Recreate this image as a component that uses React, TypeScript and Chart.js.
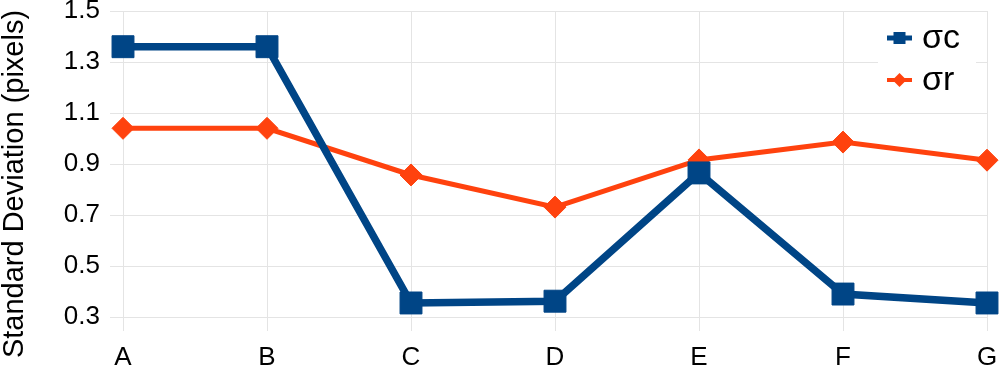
import React, { useEffect, useRef } from "react";
import { Chart, registerables } from "chart.js";

Chart.register(...registerables);

const categories = ["A", "B", "C", "D", "E", "F", "G"];
const sigmaC = [1.36, 1.36, 0.355, 0.362, 0.865, 0.39, 0.355];
const sigmaR = [1.04, 1.04, 0.857, 0.731, 0.916, 0.986, 0.915];
const seriesNames = ["σc", "σr"];
const yTitle = "Standard Deviation (pixels)";

const BLUE = "#004586";
const ORANGE = "#ff420e";
const FONT = "'Liberation Sans', Arial, sans-serif";

const legendPlugin = {
  id: "insideLegend",
  afterDraw(chart: any) {
    const ctx = chart.ctx;
    const area = chart.chartArea;
    const right = area.right - 11;
    const left = right - 98;
    ctx.save();
    ctx.fillStyle = "#ffffff";
    ctx.fillRect(left, area.top + 8, 98, 88);
    const rows = [
      { y: area.top + 27, color: BLUE, name: seriesNames[0], shape: "rect" },
      { y: area.top + 69, color: ORANGE, name: seriesNames[1], shape: "diamond" },
    ];
    rows.forEach((r) => {
      const x0 = left + 9;
      const x1 = left + 34;
      ctx.strokeStyle = r.color;
      ctx.lineWidth = r.shape === "rect" ? 5 : 4;
      ctx.beginPath();
      ctx.moveTo(x0, r.y);
      ctx.lineTo(x1, r.y);
      ctx.stroke();
      ctx.fillStyle = r.color;
      const cx = (x0 + x1) / 2;
      if (r.shape === "rect") {
        ctx.fillRect(cx - 6, r.y - 6, 12, 12);
      } else {
        ctx.beginPath();
        ctx.moveTo(cx, r.y - 7);
        ctx.lineTo(cx + 7, r.y);
        ctx.lineTo(cx, r.y + 7);
        ctx.lineTo(cx - 7, r.y);
        ctx.closePath();
        ctx.fill();
      }
      ctx.fillStyle = "#000000";
      ctx.font = "34px " + FONT;
      ctx.textBaseline = "middle";
      ctx.textAlign = "left";
      ctx.fillText(r.name, left + 44, r.y + 1);
    });
    ctx.restore();
  },
};

const yTitlePlugin = {
  id: "yTitle",
  afterDraw(chart: any) {
    const ctx = chart.ctx;
    ctx.save();
    ctx.translate(23, chart.height / 2);
    ctx.rotate(-Math.PI / 2);
    ctx.fillStyle = "#000";
    ctx.font = "29px " + FONT;
    ctx.textAlign = "center";
    ctx.textBaseline = "alphabetic";
    ctx.fillText(yTitle, 0, 0);
    ctx.restore();
  },
};

export default function App() {
  const ref = useRef<HTMLCanvasElement | null>(null);
  useEffect(() => {
    if (!ref.current) return;
    const chart = new Chart(ref.current, {
      type: "line",
      data: {
        labels: categories,
        datasets: [
          {
            label: seriesNames[0],
            data: sigmaC,
            borderColor: BLUE,
            backgroundColor: BLUE,
            borderWidth: 7.5,
            pointStyle: "rect",
            pointRadius: 15.5,
            pointBorderWidth: 1,
            pointBackgroundColor: BLUE,
            pointBorderColor: BLUE,
            tension: 0,
          },
          {
            label: seriesNames[1],
            data: sigmaR,
            borderColor: ORANGE,
            backgroundColor: ORANGE,
            borderWidth: 5,
            pointStyle: "rectRot",
            pointRadius: 11,
            pointBorderWidth: 1,
            pointBackgroundColor: ORANGE,
            pointBorderColor: ORANGE,
            tension: 0,
          },
        ],
      },
      options: {
        animation: false,
        responsive: false,
        maintainAspectRatio: false,
        layout: { autoPadding: false, padding: { top: 11, left: 0, right: 13, bottom: 0 } },
        plugins: { legend: { display: false }, tooltip: { enabled: false } },
        scales: {
          x: {
            offset: false,
            grid: { color: "#e4e4e4", lineWidth: 1, tickLength: 14 },
            border: { color: "#e4e4e4" },
            ticks: { color: "#000", font: { size: 26, family: FONT }, padding: 11 },
            afterFit: (s: any) => {
              s.height = 51;
              s.paddingLeft = 0;
              s.paddingRight = 13;
            },
          },
          y: {
            min: 0.3,
            max: 1.5,
            grid: { color: "#e4e4e4", lineWidth: 1, tickLength: 13 },
            border: { color: "#e4e4e4" },
            ticks: {
              stepSize: 0.2,
              color: "#000",
              font: { size: 26, family: FONT, lineHeight: 0.05 },
              padding: 10,
              callback: (v: any) => Number(v).toFixed(1),
            },
            title: { display: false },
            afterFit: (s: any) => {
              s.width = 123;
            },
          },
        },
      },
      plugins: [legendPlugin, yTitlePlugin],
    });
    return () => chart.destroy();
  }, []);
  return (
    <div style={{ position: "fixed", left: 0, top: 0, width: 1000, height: 368, background: "#fff" }}>
      <canvas ref={ref} width={1000} height={368} style={{ width: 1000, height: 368 }} />
    </div>
  );
}
